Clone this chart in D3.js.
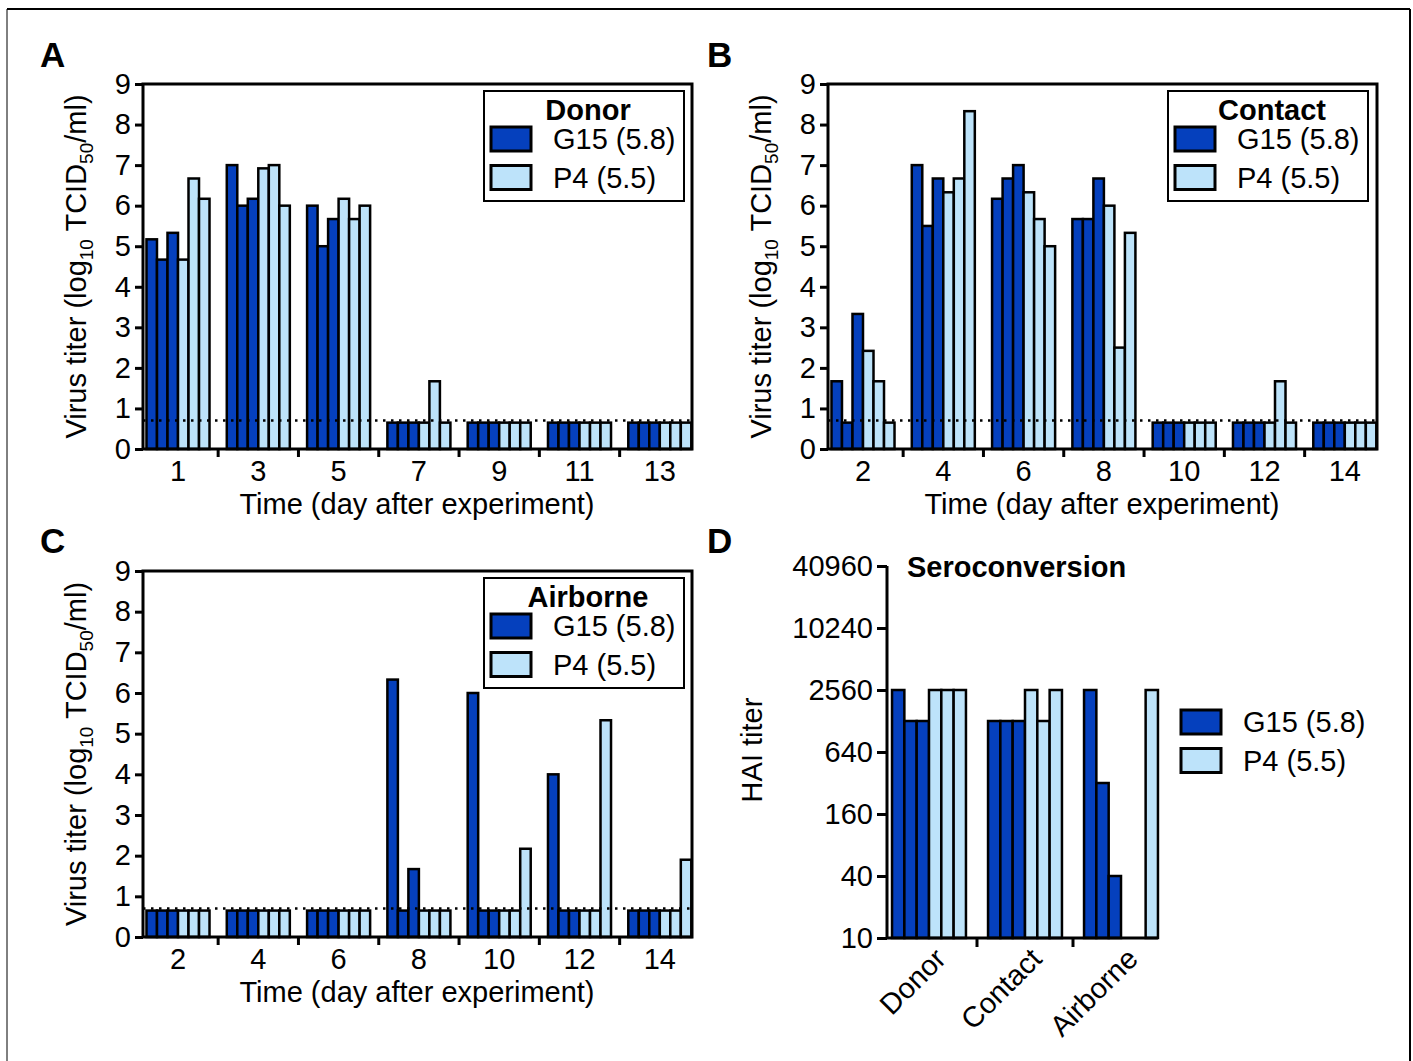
<!DOCTYPE html>
<html>
<head>
<meta charset="utf-8">
<script src="https://cdn.jsdelivr.net/npm/d3@7"></script>
<style>
body { margin: 0; background: #fff; }
text { font-family: "Liberation Sans", Arial, sans-serif; }
</style>
</head>
<body>
<script>
// limit of detection (bars drawn at this height) and the dotted LOD line
var LOD = 0.65;
var lodLine = 0.7;

// A: donor animals, 3 per virus, log10 TCID50/ml
var donorDays = [1, 3, 5, 7, 9, 11, 13];
var donorG15 = [[5.17, 4.67, 5.33], [7.0, 6.0, 6.17], [6.0, 5.0, 5.67], [LOD, LOD, LOD],
                [LOD, LOD, LOD], [LOD, LOD, LOD], [LOD, LOD, LOD]];
var donorP4  = [[4.67, 6.67, 6.17], [6.92, 7.0, 6.0], [6.17, 5.67, 6.0], [LOD, 1.67, LOD],
                [LOD, LOD, LOD], [LOD, LOD, LOD], [LOD, LOD, LOD]];

// B: contact animals
var contactDays = [2, 4, 6, 8, 10, 12, 14];
var contactG15 = [[1.67, LOD, 3.33], [7.0, 5.5, 6.67], [6.17, 6.67, 7.0], [5.67, 5.67, 6.67],
                  [LOD, LOD, LOD], [LOD, LOD, LOD], [LOD, LOD, LOD]];
var contactP4  = [[2.42, 1.67, LOD], [6.33, 6.67, 8.33], [6.33, 5.67, 5.0], [6.0, 2.5, 5.33],
                  [LOD, LOD, LOD], [LOD, 1.67, LOD], [LOD, LOD, LOD]];

// C: airborne animals
var airDays = [2, 4, 6, 8, 10, 12, 14];
var airG15 = [[LOD, LOD, LOD], [LOD, LOD, LOD], [LOD, LOD, LOD], [6.33, LOD, 1.67],
              [6.0, LOD, LOD], [4.0, LOD, LOD], [LOD, LOD, LOD]];
var airP4  = [[LOD, LOD, LOD], [LOD, LOD, LOD], [LOD, LOD, LOD], [LOD, LOD, LOD],
              [LOD, LOD, 2.17], [LOD, LOD, 5.33], [LOD, LOD, 1.9]];

// D: seroconversion (HAI titer)
var seroGroups = ["Donor", "Contact", "Airborne"];
var seroG15 = [[2560, 1280, 1280], [1280, 1280, 1280], [2560, 320, 40]];
var seroP4  = [[2560, 2560, 2560], [2560, 1280, 2560], [10, 10, 2560]];
var hiTicks = [10, 40, 160, 640, 2560, 10240, 40960];

var seriesNames = ["G15 (5.8)", "P4 (5.5)"];

var dark = "#0540bd", light = "#bde3fa";
var FS = 29;

var svg = d3.select("body").append("svg")
    .attr("width", 1413)
    .attr("height", 1061);

// outer figure border
svg.append("line").attr("x1", 7).attr("x2", 1410).attr("y1", 9).attr("y2", 9)
    .attr("stroke", "#000").attr("stroke-width", 2);
svg.append("line").attr("x1", 7).attr("x2", 7).attr("y1", 9).attr("y2", 1061)
    .attr("stroke", "#000").attr("stroke-width", 1);
svg.append("line").attr("x1", 1410).attr("x2", 1410).attr("y1", 9).attr("y2", 1061)
    .attr("stroke", "#000").attr("stroke-width", 2);

// panel letters
[["A", 40, 67], ["B", 707, 67], ["C", 40, 553], ["D", 707, 553]].forEach(function(l) {
    svg.append("text").text(l[0]).attr("x", l[1]).attr("y", l[2])
        .attr("font-size", 35).attr("font-weight", "bold");
});

function legend(g, x, y, title) {
    // x,y = top-left of the box
    var lg = g.append("g").attr("transform", "translate(" + x + "," + y + ")");
    if (title) {
        lg.append("rect").attr("width", 200).attr("height", 110)
            .attr("fill", "#fff").attr("stroke", "#000").attr("stroke-width", 2);
        lg.append("text").text(title).attr("x", 104).attr("y", 29)
            .attr("text-anchor", "middle").attr("font-size", FS).attr("font-weight", "bold");
    }
    var oy = title ? 36 : 0;
    seriesNames.forEach(function(s, i) {
        lg.append("rect").attr("x", 7).attr("y", oy + i * 38.5)
            .attr("width", 40).attr("height", 24)
            .attr("fill", i == 0 ? dark : light).attr("stroke", "#000").attr("stroke-width", 3);
        lg.append("text").text(s).attr("x", 69).attr("y", oy + i * 38.5 + 22)
            .attr("font-size", FS);
    });
}

function titerPanel(p) {
    var g = svg.append("g");
    var y = d3.scaleLinear().domain([0, 9]).range([p.bottom, p.top]);
    var x = d3.scaleBand().domain(p.days)
        .range([p.left - 5.15, p.left + 556.95])
        .paddingInner(0.215).paddingOuter(0.1075);
    var xi = d3.scaleBand().domain(d3.range(6)).range([0, x.bandwidth()]);

    var rows = [];
    p.days.forEach(function(d, i) {
        p.g15[i].forEach(function(v, j) { rows.push({day: d, k: j, v: v, c: dark}); });
        p.p4[i].forEach(function(v, j) { rows.push({day: d, k: j + 3, v: v, c: light}); });
    });

    g.selectAll("rect.bar")
        .data(rows)
        .enter()
        .append("rect")
        .attr("class", "bar")
        .attr("x", function(d) { return x(d.day) + xi(d.k); })
        .attr("y", function(d) { return y(d.v); })
        .attr("width", xi.bandwidth())
        .attr("height", function(d) { return y(0) - y(d.v); })
        .attr("fill", function(d) { return d.c; })
        .attr("stroke", "#000")
        .attr("stroke-width", 2.5);

    // dotted detection limit
    g.append("line")
        .attr("x1", p.left).attr("x2", p.right)
        .attr("y1", y(lodLine)).attr("y2", y(lodLine))
        .attr("stroke", "#000").attr("stroke-width", 2.5)
        .attr("stroke-dasharray", "2.5,5.5");

    // frame
    g.append("rect")
        .attr("x", p.left).attr("y", p.top)
        .attr("width", p.right - p.left).attr("height", p.bottom - p.top)
        .attr("fill", "none").attr("stroke", "#000").attr("stroke-width", 3);

    // y axis
    var ya = g.append("g")
        .attr("transform", "translate(" + p.left + ",0)")
        .call(d3.axisLeft(y).ticks(9).tickSize(8).tickPadding(4));
    ya.attr("font-size", FS).attr("font-family", null);
    ya.select(".domain").remove();
    ya.selectAll("line").attr("stroke-width", 3);

    // x axis labels in the middle of each day group
    var xa = g.append("g")
        .attr("transform", "translate(0," + p.bottom + ")")
        .call(d3.axisBottom(x).tickSize(0).tickPadding(11));
    xa.attr("font-size", FS).attr("font-family", null);
    xa.select(".domain").remove();

    // short ticks between groups
    g.selectAll("line.sep")
        .data(p.days.slice(0, -1))
        .enter()
        .append("line")
        .attr("class", "sep")
        .attr("x1", function(d) { return x(d) + x.bandwidth() + x.step() * x.paddingInner() / 2; })
        .attr("x2", function(d) { return x(d) + x.bandwidth() + x.step() * x.paddingInner() / 2; })
        .attr("y1", p.bottom).attr("y2", p.bottom + 8)
        .attr("stroke", "#000").attr("stroke-width", 3);

    g.append("text")
        .text("Time (day after experiment)")
        .attr("x", (p.left + p.right) / 2 - 0.5)
        .attr("y", p.bottom + 65)
        .attr("text-anchor", "middle")
        .attr("font-size", FS);

    var yl = g.append("text")
        .attr("transform", "translate(" + (p.left - 57) + "," + ((p.top + p.bottom) / 2) + ") rotate(-90)")
        .attr("text-anchor", "middle")
        .attr("font-size", FS);
    yl.append("tspan").text("Virus titer (log");
    yl.append("tspan").text("10").attr("font-size", 19).attr("dy", 7);
    yl.append("tspan").text(" TCID").attr("dy", -7);
    yl.append("tspan").text("50").attr("font-size", 19).attr("dy", 7);
    yl.append("tspan").text("/ml)").attr("dy", -7);

    legend(g, p.legendX, p.legendY, p.title);
}

titerPanel({left: 143, right: 692, top: 84, bottom: 449, days: donorDays,
            g15: donorG15, p4: donorP4, title: "Donor", legendX: 484, legendY: 91});
titerPanel({left: 828, right: 1377, top: 84, bottom: 449, days: contactDays,
            g15: contactG15, p4: contactP4, title: "Contact", legendX: 1168, legendY: 91});
titerPanel({left: 143, right: 692, top: 571, bottom: 937, days: airDays,
            g15: airG15, p4: airP4, title: "Airborne", legendX: 484, legendY: 578});

// D: seroconversion
var gd = svg.append("g");
var dLeft = 887, dTop = 566, dBottom = 938;
var yd = d3.scaleLog().base(2).domain([10, 40960]).range([dBottom, dTop]);
var xd = d3.scaleBand().domain(seroGroups).range([881, 1169])
    .paddingInner(0.23).paddingOuter(0.115);
var xdi = d3.scaleBand().domain(d3.range(6)).range([0, xd.bandwidth()]);

var seroRows = [];
seroGroups.forEach(function(grp, i) {
    seroG15[i].forEach(function(v, j) { seroRows.push({grp: grp, k: j, v: v, c: dark}); });
    seroP4[i].forEach(function(v, j) { seroRows.push({grp: grp, k: j + 3, v: v, c: light}); });
});

gd.selectAll("rect.bar")
    .data(seroRows.filter(function(d) { return d.v > 10; }))
    .enter()
    .append("rect")
    .attr("class", "bar")
    .attr("x", function(d) { return xd(d.grp) + xdi(d.k); })
    .attr("y", function(d) { return yd(d.v); })
    .attr("width", xdi.bandwidth())
    .attr("height", function(d) { return dBottom - yd(d.v); })
    .attr("fill", function(d) { return d.c; })
    .attr("stroke", "#000")
    .attr("stroke-width", 2.5);

var yda = gd.append("g")
    .attr("transform", "translate(" + dLeft + ",0)")
    .call(d3.axisLeft(yd).tickValues(hiTicks).tickFormat(d3.format("d")).tickSize(10).tickPadding(4));
yda.attr("font-size", FS).attr("font-family", null);
yda.select(".domain").attr("stroke-width", 3).attr("d", "M0," + dTop + "V" + dBottom);
yda.selectAll("line").attr("stroke-width", 3);

gd.append("line")
    .attr("x1", dLeft).attr("x2", xd(seroGroups[2]) + xd.bandwidth())
    .attr("y1", dBottom).attr("y2", dBottom)
    .attr("stroke", "#000").attr("stroke-width", 3);

gd.selectAll("line.sep")
    .data(seroGroups.slice(0, -1))
    .enter()
    .append("line")
    .attr("class", "sep")
    .attr("x1", function(d) { return xd(d) + xd.bandwidth() + xd.step() * xd.paddingInner() / 2; })
    .attr("x2", function(d) { return xd(d) + xd.bandwidth() + xd.step() * xd.paddingInner() / 2; })
    .attr("y1", dBottom).attr("y2", dBottom + 9)
    .attr("stroke", "#000").attr("stroke-width", 3);

gd.selectAll("text.cat")
    .data(seroGroups)
    .enter()
    .append("text")
    .attr("class", "cat")
    .text(function(d) { return d; })
    .attr("transform", function(d) {
        return "translate(" + (xd(d) + xd.bandwidth() / 2 + 4) + "," + (dBottom + 8) + ") rotate(-45)";
    })
    .attr("text-anchor", "end")
    .attr("dy", "0.71em")
    .attr("font-size", FS);

gd.append("text").text("Seroconversion")
    .attr("x", 907).attr("y", 577)
    .attr("font-size", FS).attr("font-weight", "bold");

gd.append("text").text("HAI titer")
    .attr("transform", "translate(762,750) rotate(-90)")
    .attr("text-anchor", "middle")
    .attr("font-size", FS);

legend(gd, 1174, 710, null);
</script>
</body>
</html>
